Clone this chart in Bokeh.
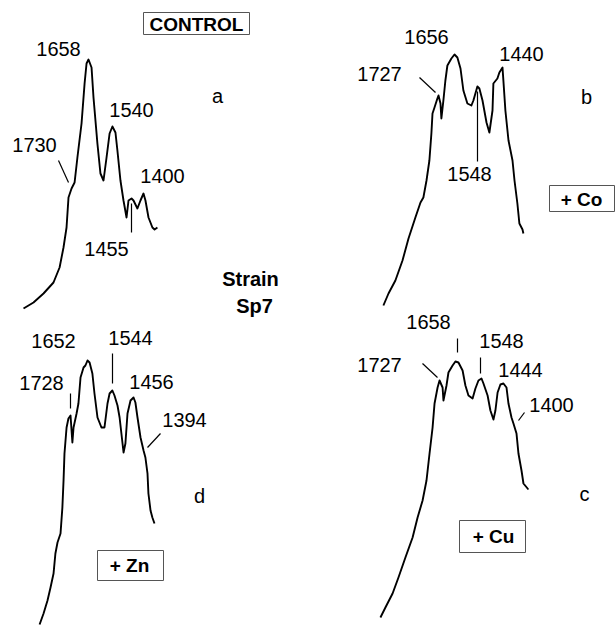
from bokeh.plotting import figure
from bokeh.models import Range1d
from bokeh.embed import file_html
from bokeh.resources import INLINE
from bokeh.core.properties import value

# ---------------- data (wavenumber cm-1, relative absorbance) ----------------
wn_a = [1957, 1911, 1865, 1819, 1791, 1773, 1759, 1750, 1736, 1722, 1709, 1690, 1676,
        1667, 1658, 1644, 1635, 1617, 1603, 1589, 1575, 1561, 1548, 1534, 1525, 1511,
        1497, 1483, 1474, 1460, 1451, 1433, 1419, 1405, 1396, 1382, 1364, 1354, 1341]
abs_a = [0.000, 0.024, 0.060, 0.104, 0.164, 0.244, 0.324, 0.444, 0.480, 0.504, 0.604,
         0.740, 0.900, 0.980, 0.996, 0.964, 0.844, 0.660, 0.540, 0.512, 0.604, 0.700,
         0.728, 0.704, 0.632, 0.512, 0.432, 0.364, 0.432, 0.440, 0.432, 0.400, 0.432,
         0.460, 0.432, 0.364, 0.324, 0.316, 0.324]

wn_b = [1976, 1953, 1922, 1890, 1863, 1832, 1809, 1796, 1782, 1769, 1760, 1755, 1746,
        1733, 1728, 1719, 1715, 1706, 1697, 1688, 1670, 1656, 1643, 1629, 1616, 1598,
        1580, 1571, 1553, 1544, 1530, 1512, 1499, 1485, 1481, 1463, 1454, 1440, 1436,
        1427, 1413, 1395, 1386, 1373, 1364, 1350, 1346]
abs_b = [0.000, 0.048, 0.100, 0.180, 0.268, 0.352, 0.412, 0.432, 0.500, 0.580, 0.688,
         0.768, 0.792, 0.828, 0.840, 0.808, 0.748, 0.820, 0.900, 0.960, 0.988, 1.004,
         0.992, 0.948, 0.860, 0.808, 0.800, 0.820, 0.876, 0.868, 0.820, 0.732, 0.692,
         0.780, 0.888, 0.908, 0.932, 0.952, 0.900, 0.780, 0.660, 0.580, 0.500, 0.408,
         0.328, 0.304, 0.288]

wn_c = [2008, 1985, 1952, 1925, 1893, 1860, 1837, 1814, 1796, 1782, 1768, 1759, 1745,
        1736, 1722, 1718, 1704, 1695, 1676, 1663, 1649, 1630, 1617, 1603, 1584, 1571,
        1557, 1543, 1534, 1515, 1502, 1488, 1479, 1469, 1456, 1442, 1428, 1419, 1405,
        1396, 1382, 1373, 1359, 1350, 1331, 1327]
abs_c = [0.000, 0.040, 0.096, 0.160, 0.240, 0.320, 0.400, 0.468, 0.548, 0.656, 0.760,
         0.856, 0.920, 0.948, 0.920, 0.868, 0.928, 0.980, 1.008, 1.024, 1.020, 0.988,
         0.928, 0.888, 0.876, 0.916, 0.948, 0.956, 0.936, 0.888, 0.828, 0.792, 0.828,
         0.900, 0.932, 0.936, 0.920, 0.856, 0.800, 0.776, 0.736, 0.656, 0.588, 0.536,
         0.516, 0.512]

wn_d = [1858, 1841, 1824, 1811, 1798, 1790, 1781, 1768, 1760, 1755, 1751, 1742, 1734,
        1725, 1717, 1712, 1699, 1691, 1682, 1669, 1661, 1652, 1643, 1631, 1622, 1609,
        1592, 1579, 1566, 1557, 1545, 1536, 1523, 1514, 1497, 1489, 1480, 1467, 1454,
        1446, 1437, 1424, 1411, 1403, 1394, 1390, 1381, 1373, 1364]
abs_d = [0.000, 0.044, 0.096, 0.148, 0.204, 0.284, 0.328, 0.364, 0.468, 0.576, 0.684,
         0.788, 0.824, 0.836, 0.728, 0.788, 0.844, 0.884, 0.988, 1.028, 1.036, 1.056,
         1.048, 1.004, 0.924, 0.828, 0.788, 0.788, 0.884, 0.924, 0.936, 0.916, 0.876,
         0.828, 0.688, 0.724, 0.844, 0.896, 0.908, 0.888, 0.828, 0.748, 0.696, 0.668,
         0.604, 0.524, 0.456, 0.428, 0.404]

peaks_a = ["1658", "1540", "1730", "1400", "1455"]
peaks_b = ["1656", "1727", "1440", "1548"]
peaks_c = ["1658", "1548", "1727", "1444", "1400"]
peaks_d = ["1652", "1544", "1728", "1456", "1394"]
panel_letters = ["a", "b", "c", "d"]
treatments = ["CONTROL", "+ Co", "+ Cu", "+ Zn"]
strain_lines = ["Strain", "Sp7"]

# ---------------- layout (page pixels) ----------------
W, H = 615, 625
X0, X1, Y0, Y1 = 0, W, 0, H
TDY = -7   # text baseline correction
KA = 0.004  # absorbance per pixel
# panel: (reference wavenumber, its x pixel, cm-1 per pixel, baseline y pixel)
panels = {
    "a": (1658, 88, 4.6, 308),
    "b": (1656, 454, 4.5, 305),
    "c": (1658, 456, 4.6, 617),
    "d": (1652, 87, 4.3, 624),
}

p = figure(width=W, height=H, output_backend="svg", toolbar_location=None,
           x_range=Range1d(X0, X1), y_range=Range1d(Y1, Y0),
           x_axis_type=None, y_axis_type=None, min_border=0)
p.outline_line_color = None
p.background_fill_color = "white"
p.border_fill_color = "white"

for k, (w0, px0, s, base) in panels.items():
    p.extra_x_ranges["x" + k] = Range1d(w0 + (px0 - X0) * s, w0 - (X1 - px0) * s)
    p.extra_y_ranges["y" + k] = Range1d((base - Y1) * KA, (base - Y0) * KA)

for k, xs, ys in [("a", wn_a, abs_a), ("b", wn_b, abs_b), ("c", wn_c, abs_c), ("d", wn_d, abs_d)]:
    p.line(xs, ys, x_range_name="x" + k, y_range_name="y" + k,
           line_color="black", line_width=1.9, line_join="round")

font = value("Liberation Sans")

def ty(vals):
    return [v + TDY for v in vals]

# peak labels
lab_x = {"a": [58, 131, 34, 162, 106], "b": [426, 379, 521, 469],
         "c": [428, 501, 379, 520, 551], "d": [53, 130, 41, 151, 184]}
lab_y = {"a": [55, 116, 151, 182, 255], "b": [43, 80, 60, 180],
         "c": [328, 347, 371, 376, 411], "d": [347, 344, 389, 388, 426]}
for k, labs in [("a", peaks_a), ("b", peaks_b), ("c", peaks_c), ("d", peaks_d)]:
    p.text(lab_x[k], ty(lab_y[k]), text=labs, text_font=font, text_font_size="20px",
           text_align="center", text_baseline="alphabetic", text_color="black")

# panel letters
p.text([217, 586, 584, 199], ty([102, 103, 500, 502]), text=panel_letters, text_font=font,
       text_font_size="20px", text_align="center", text_baseline="alphabetic")

# pointer ticks
seg_x0 = [58, 131, 419, 477, 70, 112, 160, 457, 480, 422, 524]
seg_y0 = [160, 203, 77, 91, 393, 353, 433, 338, 357, 363, 412]
seg_x1 = [68, 131, 435, 477, 70, 112, 147, 457, 480, 437, 518]
seg_y1 = [182, 232, 92, 161, 408, 383, 447, 352, 373, 377, 420]
p.segment(seg_x0, seg_y0, seg_x1, seg_y1, line_color="black", line_width=1.2)

# treatment boxes
box_l = [143, 549, 459, 97]
box_r = [249, 614, 525, 163]
box_t = [12, 185, 520, 550]
box_b = [34, 211, 552, 580]
p.quad(left=box_l, right=box_r, top=box_t, bottom=box_b, fill_color=None,
       line_color="#555555", line_width=1)
p.text([196, 581, 493, 129], ty([31, 206, 543, 572]), text=treatments, text_font=font,
       text_font_size="19px", text_font_style="bold", text_align="center",
       text_baseline="alphabetic")

# strain label
p.text([250, 254], ty([285, 312]), text=strain_lines, text_font=font, text_font_size="20px",
       text_font_style="bold", text_align="center", text_baseline="alphabetic")

open("out.html", "w").write(file_html(p, INLINE))
